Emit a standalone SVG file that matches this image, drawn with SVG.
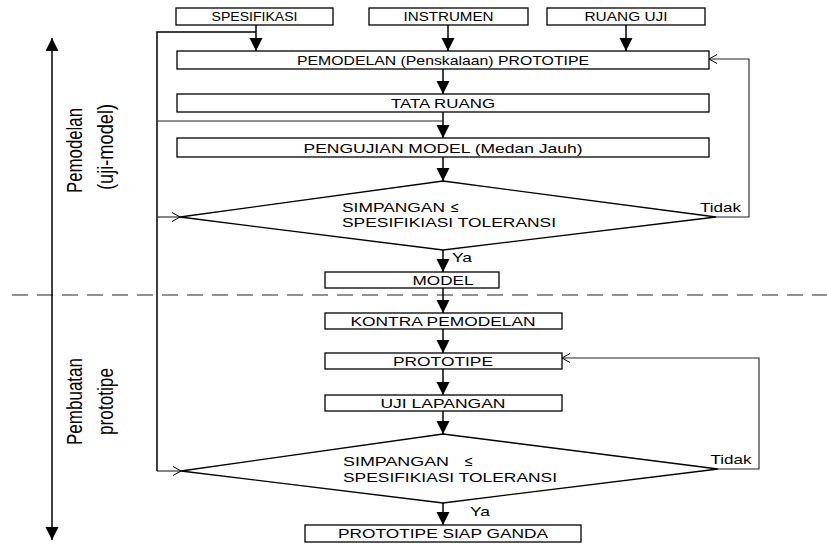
<svg xmlns="http://www.w3.org/2000/svg" width="827" height="544" viewBox="0 0 827 544">
<style>
.box{fill:#fff;stroke:#000;stroke-width:1.3}
.t{font-family:"Liberation Sans",Arial,sans-serif;font-size:13px;text-anchor:middle;fill:#000}
.ts{font-family:"Liberation Sans",Arial,sans-serif;font-size:13px;fill:#000}
.le{font-family:"Liberation Sans",Arial,sans-serif;font-size:14px;fill:#000}
.side{font-family:"Liberation Sans",Arial,sans-serif;font-size:16.8px;text-anchor:middle;fill:#000}
.ln{stroke:#000;stroke-width:1.5;fill:none}
.fb{stroke:#222;stroke-width:1.1;fill:none}
.dash{stroke:#6e6e6e;stroke-width:1.5;stroke-dasharray:16 9;fill:none}
</style>
<defs>
<marker id="ah" markerUnits="userSpaceOnUse" markerWidth="14" markerHeight="14" refX="13" refY="6.5" orient="auto-start-reverse"><path d="M0,0 L13,6.5 L0,13 z" fill="#000"/></marker>
<marker id="oa" markerUnits="userSpaceOnUse" markerWidth="10" markerHeight="12" refX="9" refY="5" orient="auto"><path d="M1,0.5 L9,5 L1,9.5" fill="none" stroke="#000" stroke-width="1"/></marker>
</defs>
<rect width="827" height="544" fill="#fff"/>

<g id="connectors">
<path class="dash" d="M12,295 H827"/>
<path class="ln" d="M52,38 V540" marker-start="url(#ah)" marker-end="url(#ah)"/>
<path class="ln" d="M256,25 V51" marker-end="url(#ah)"/>
<path class="ln" d="M448,25 V51" marker-end="url(#ah)"/>
<path class="ln" d="M626,25 V51" marker-end="url(#ah)"/>
<path class="ln" d="M443,69 V94" marker-end="url(#ah)"/>
<path class="ln" d="M443,112 V138" marker-end="url(#ah)"/>
<path class="ln" d="M443,157 V181" marker-end="url(#ah)"/>
<path class="ln" d="M443,250 V272" marker-end="url(#ah)"/>
<path class="ln" d="M443,288 V313" marker-end="url(#ah)"/>
<path class="ln" d="M443,329 V353" marker-end="url(#ah)"/>
<path class="ln" d="M443,369 V395" marker-end="url(#ah)"/>
<path class="ln" d="M443,411 V434" marker-end="url(#ah)"/>
<path class="ln" d="M443,503 V525" marker-end="url(#ah)"/>
<path class="ln" d="M256,32 H157 V471"/>
<path class="fb" d="M157,121 H443"/>
<path class="fb" d="M157,217 H180" marker-end="url(#oa)"/>
<path class="fb" d="M157,471 H181" marker-end="url(#oa)"/>
<path class="fb" d="M716,217 H749 V59 H709" marker-end="url(#oa)"/>
<path class="fb" d="M718,469 H759 V358 H562" marker-end="url(#oa)"/>
</g>

<g id="label-pemodelan">
<text class="side" transform="translate(82,150.5) scale(1.3,1) rotate(-90)" textLength="85" lengthAdjust="spacingAndGlyphs">Pemodelan</text>
<text class="side" transform="translate(112.5,147) scale(1.3,1) rotate(-90)" textLength="86" lengthAdjust="spacingAndGlyphs">(uji-model)</text>
</g>
<g id="label-pembuatan">
<text class="side" transform="translate(82,401.5) scale(1.3,1) rotate(-90)" textLength="87" lengthAdjust="spacingAndGlyphs">Pembuatan</text>
<text class="side" transform="translate(112.5,401.5) scale(1.3,1) rotate(-90)" textLength="67" lengthAdjust="spacingAndGlyphs">prototipe</text>
</g>

<g id="spesifikasi"><rect class="box" x="176" y="8" width="157" height="17"/><text class="t" x="254.5" y="21" textLength="86" lengthAdjust="spacingAndGlyphs">SPESIFIKASI</text></g>
<g id="instrumen"><rect class="box" x="369" y="8" width="159" height="17"/><text class="t" x="448.5" y="21" textLength="90" lengthAdjust="spacingAndGlyphs">INSTRUMEN</text></g>
<g id="ruang-uji"><rect class="box" x="547" y="8" width="158" height="17"/><text class="t" x="626" y="21" textLength="83" lengthAdjust="spacingAndGlyphs">RUANG UJI</text></g>

<g id="pemodelan"><rect class="box" x="177" y="51" width="532" height="18"/><text class="t" x="443" y="65" textLength="292" lengthAdjust="spacingAndGlyphs">PEMODELAN (Penskalaan) PROTOTIPE</text></g>
<g id="tata-ruang"><rect class="box" x="177" y="94" width="532" height="18"/><text class="t" x="443" y="108" textLength="104" lengthAdjust="spacingAndGlyphs">TATA RUANG</text></g>
<g id="pengujian"><rect class="box" x="177" y="138" width="532" height="19"/><text class="t" x="443" y="152.5" textLength="279" lengthAdjust="spacingAndGlyphs">PENGUJIAN MODEL (Medan Jauh)</text></g>

<g id="decision1">
<path class="box" d="M443,181 L716,217 L443,250 L180,217 Z"/>
<text class="ts" x="342" y="212" textLength="103" lengthAdjust="spacingAndGlyphs">SIMPANGAN</text>
<text class="le" x="451" y="212">≤</text>
<text class="ts" x="342" y="227" textLength="214" lengthAdjust="spacingAndGlyphs">SPESIFIKIASI TOLERANSI</text>
<text class="t" x="720.5" y="212" textLength="41" lengthAdjust="spacingAndGlyphs">Tidak</text>
<text class="ts" x="452" y="262" textLength="20" lengthAdjust="spacingAndGlyphs">Ya</text>
</g>

<g id="model"><rect class="box" x="325" y="272" width="174" height="16"/><text class="t" x="443" y="284.5" textLength="61" lengthAdjust="spacingAndGlyphs">MODEL</text></g>
<g id="kontra"><rect class="box" x="325" y="313" width="237" height="16"/><text class="t" x="443" y="325.5" textLength="185" lengthAdjust="spacingAndGlyphs">KONTRA PEMODELAN</text></g>
<g id="prototipe"><rect class="box" x="325" y="353" width="237" height="16"/><text class="t" x="443" y="365.5" textLength="100" lengthAdjust="spacingAndGlyphs">PROTOTIPE</text></g>
<g id="uji-lapangan"><rect class="box" x="325" y="395" width="237" height="16"/><text class="t" x="443" y="407.5" textLength="125" lengthAdjust="spacingAndGlyphs">UJI LAPANGAN</text></g>

<g id="decision2">
<path class="box" d="M443,434 L718,469 L443,503 L181,471 Z"/>
<text class="ts" x="343" y="466" textLength="106" lengthAdjust="spacingAndGlyphs">SIMPANGAN</text>
<text class="le" x="465" y="466">≤</text>
<text class="ts" x="343" y="481.5" textLength="214" lengthAdjust="spacingAndGlyphs">SPESIFIKIASI TOLERANSI</text>
<text class="t" x="731" y="464" textLength="41" lengthAdjust="spacingAndGlyphs">Tidak</text>
<text class="ts" x="470" y="516" textLength="20" lengthAdjust="spacingAndGlyphs">Ya</text>
</g>

<g id="siap-ganda"><rect class="box" x="305" y="525" width="276" height="17"/><text class="t" x="443" y="538" textLength="210" lengthAdjust="spacingAndGlyphs">PROTOTIPE SIAP GANDA</text></g>
</svg>
